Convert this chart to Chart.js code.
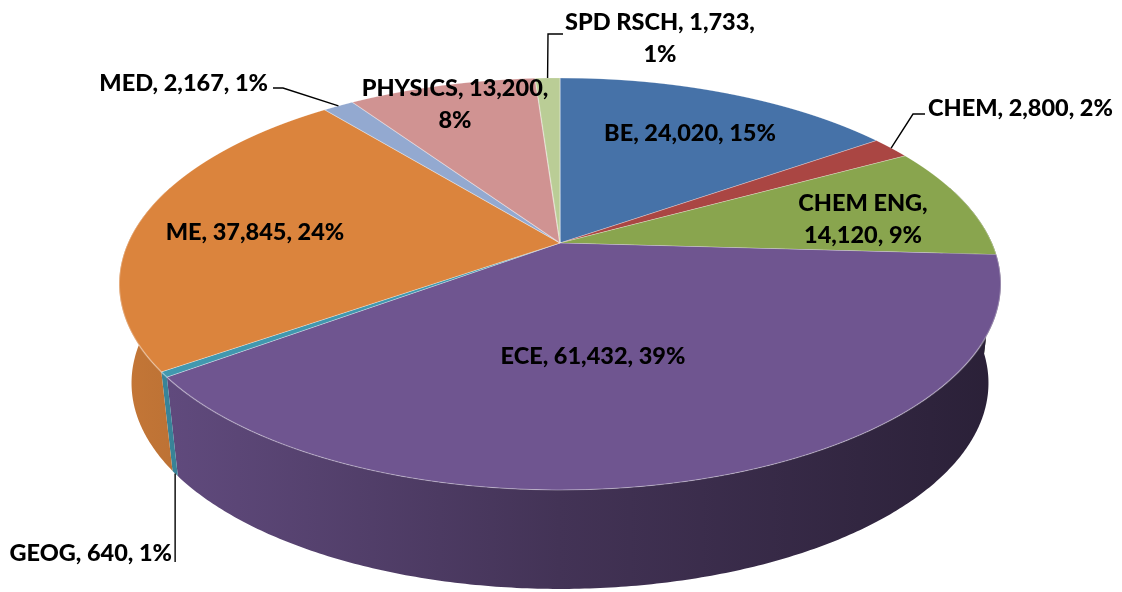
<!DOCTYPE html>
<html>
<head>
<meta charset="utf-8">
<title>Hours by department</title>
<script src="https://cdn.jsdelivr.net/npm/chart.js@4.4.1/dist/chart.umd.min.js"></script>
<style>
  html, body { margin: 0; padding: 0; background: #fff; }
  canvas { display: block; }
</style>
</head>
<body>
<canvas id="myChart" width="1122" height="592"></canvas>
<script>
// data
const departments = ["BE", "CHEM", "CHEM ENG", "ECE", "GEOG", "ME", "MED", "PHYSICS", "SPD RSCH"];
const hours = [24020, 2800, 14120, 61432, 640, 37845, 2167, 13200, 1733];

// styles
const sliceColors = ["#4672A8", "#AA4643", "#89A54E", "#6F5590", "#4198AF", "#DB843D", "#93A9D0", "#D09392", "#BACD96"];

// where each label sits (Excel "best fit" placement), and how it is wrapped
const labelLayout = [
  { x: 690, y: 133, align: "center" },
  { x: 928, y: 108, align: "left", anchor: "top", path: [[913, 114], [925, 114]] },
  { x: 863, y: 203, align: "center", wrap: 1 },
  { x: 593, y: 356, align: "center" },
  { x: 172, y: 553, align: "right", anchor: "base", path: [[null, 562]] },
  { x: 255, y: 232, align: "center" },
  { x: 268, y: 83, align: "right", anchor: "top", path: [[283, 88], [273, 88]] },
  { x: 455, y: 88, align: "center", wrap: 2 },
  { x: 660, y: 22, align: "center", wrap: 2, anchor: "top", path: [[548, 34], [563, 34]] },
];

// perspective of the tilted pie: hub, half axes, tilt, thickness
const view = { cx: 560, hubY: 243, A: 432, B: 197.8, c: -0.199, depth: 99, baseShrink: 0.972 };

const project = (u, v) => {
  const g = 1 / (1 + view.c * v);
  return { x: view.cx + view.A * u * g, y: view.hubY + view.B * v * g };
};
const toBase = (p) => ({ x: view.cx + (p.x - view.cx) * view.baseShrink, y: p.y + view.depth });

const shade = (hex, f) => {
  const n = parseInt(hex.slice(1), 16);
  const r = Math.round(((n >> 16) & 255) * f), g = Math.round(((n >> 8) & 255) * f), b = Math.round((n & 255) * f);
  return `rgb(${r},${g},${b})`;
};

// percentages the way Excel shows them (largest remainder, sums to 100)
const percentLabels = (vals) => {
  const total = vals.reduce((a, b) => a + b, 0);
  const raw = vals.map((v) => (v / total) * 100);
  const out = raw.map(Math.floor);
  let left = 100 - out.reduce((a, b) => a + b, 0);
  const order = raw.map((r, i) => [r - Math.floor(r), i]).sort((a, b) => b[0] - a[0]);
  for (let k = 0; k < left; k++) out[order[k][1]]++;
  return out;
};
const pcts = percentLabels(hours);

const pie3d = {
  id: "pie3d",
  beforeDatasetsDraw(chart) {
    const ctx = chart.ctx;
    const meta = chart.getDatasetMeta(0);
    const r = meta.data[0].outerRadius;
    const hub = meta.data[0];

    // side wall, front part only
    meta.data.forEach((arc, i) => {
      const a1 = Math.max(arc.startAngle, -0.3), a2 = Math.min(arc.endAngle, Math.PI + 0.3);
      if (a2 <= a1) return;
      const steps = Math.max(2, Math.ceil((a2 - a1) / 0.01));
      const top = [];
      for (let k = 0; k <= steps; k++) {
        const t = a1 + ((a2 - a1) * k) / steps;
        top.push(project(Math.cos(t), Math.sin(t)));
      }
      ctx.beginPath();
      top.forEach((p, k) => (k ? ctx.lineTo(p.x, p.y) : ctx.moveTo(p.x, p.y)));
      for (let k = top.length - 1; k >= 0; k--) {
        const b = toBase(top[k]);
        ctx.lineTo(b.x, b.y);
      }
      ctx.closePath();
      const grad = ctx.createLinearGradient(118, 0, 1001, 0);
      grad.addColorStop(0, shade(sliceColors[i], 0.9));
      grad.addColorStop(0.5, shade(sliceColors[i], 0.6));
      grad.addColorStop(1, shade(sliceColors[i], 0.38));
      ctx.fillStyle = grad;
      ctx.fill();
    });

    // top face: let the controller draw the slices row by row through the tilt
    const y0 = Math.floor(project(0, -1).y) - 2, y1 = Math.ceil(project(0, 1).y) + 2;
    for (let y = y0; y < y1; y++) {
      const ym = y + 0.5, d = ym - view.hubY;
      const v = d / (view.B - view.c * d);
      const g = 1 / (1 + view.c * v);
      ctx.save();
      ctx.beginPath();
      ctx.rect(0, y, chart.width, 1);
      ctx.clip();
      ctx.translate(view.cx, ym);
      ctx.scale((view.A * g) / r, (view.B * g * g) / r);
      ctx.translate(-hub.x, -(hub.y + v * r));
      meta.controller.draw();
      ctx.restore();
    }
    return false;
  },
  afterDraw(chart) {
    const ctx = chart.ctx;
    const meta = chart.getDatasetMeta(0);
    ctx.save();
    ctx.font = "900 23.5px Lato";
    ctx.fillStyle = "#000";
    ctx.strokeStyle = "#000";
    ctx.lineWidth = 1.4;
    ctx.textBaseline = "middle";
    meta.data.forEach((arc, i) => {
      const lay = labelLayout[i];
      if (lay.anchor) {
        const mid = (arc.startAngle + arc.endAngle) / 2;
        let p = project(Math.cos(mid), Math.sin(mid));
        if (lay.anchor === "base") p = toBase(p);
        ctx.beginPath();
        ctx.moveTo(p.x, p.y);
        lay.path.forEach(([x, y]) => ctx.lineTo(x === null ? p.x : x, y));
        ctx.stroke();
      }
      const parts = [departments[i], hours[i].toLocaleString("en-US"), pcts[i] + "%"];
      const lines = lay.wrap
        ? [parts.slice(0, lay.wrap).join(", ") + ",", parts.slice(lay.wrap).join(", ")]
        : [parts.join(", ")];
      ctx.textAlign = lay.align;
      lines.forEach((t, k) => ctx.fillText(t, lay.x, lay.y + k * 32));
    });
    ctx.restore();
  },
};

const config = {
  type: "pie",
  data: {
    labels: departments,
    datasets: [
      {
        data: hours,
        backgroundColor: sliceColors,
        borderColor: "rgba(255,255,255,0.35)",
        borderWidth: 1,
        clip: false,
      },
    ],
  },
  options: {
    responsive: false,
    animation: false,
    events: [],
    layout: { padding: 0 },
    plugins: { legend: { display: false }, tooltip: { enabled: false } },
  },
  plugins: [pie3d],
};

const myChart = new Chart(document.getElementById("myChart"), config);
</script>
</body>
</html>
